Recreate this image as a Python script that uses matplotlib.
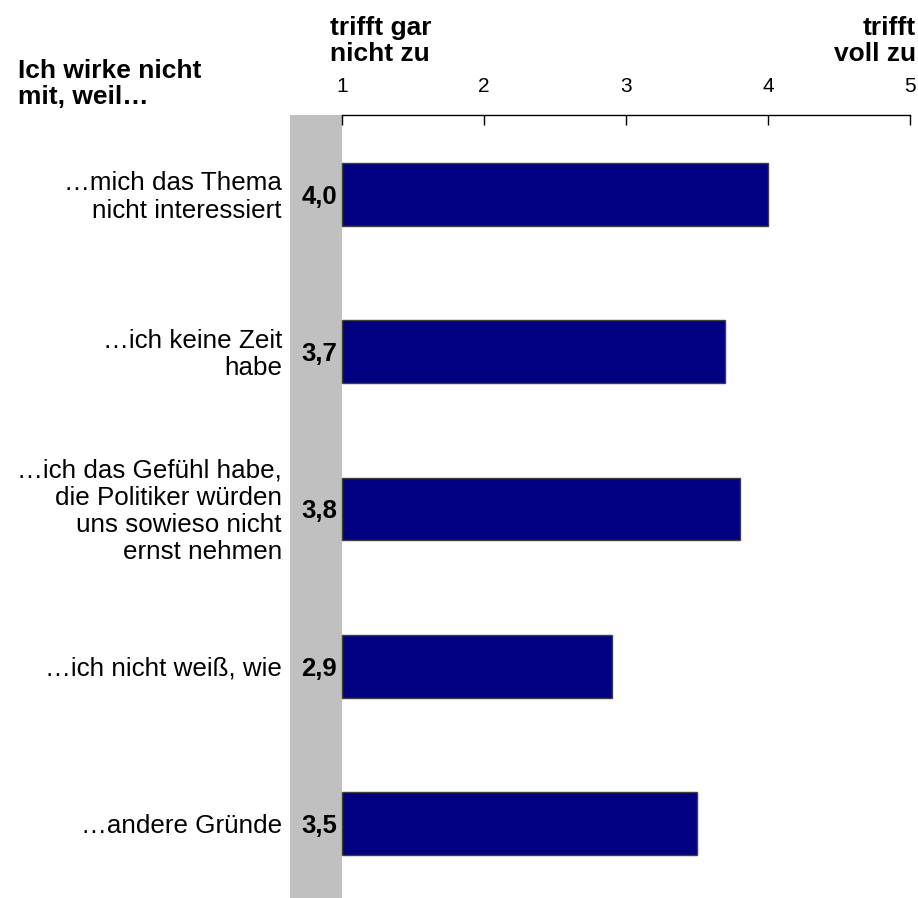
import matplotlib
matplotlib.use("Agg")
import matplotlib.pyplot as plt

plt.rcParams['font.family'] = ['Liberation Sans', 'DejaVu Sans']

categories = [
    "…mich das Thema\nnicht interessiert",
    "…ich keine Zeit\nhabe",
    "…ich das Gefühl habe,\ndie Politiker würden\nuns sowieso nicht\nernst nehmen",
    "…ich nicht weiß, wie",
    "…andere Gründe",
]
values = [4.0, 3.7, 3.8, 2.9, 3.5]
value_labels = ["4,0", "3,7", "3,8", "2,9", "3,5"]
ticks = [1, 2, 3, 4, 5]
tick_labels = ["1", "2", "3", "4", "5"]

W, H = 918, 898
fig = plt.figure(figsize=(W / 100, H / 100), dpi=100)

x0, x1 = 290, 910   # axes left/right in px
y_top, y_bot = 115, 898
ax = fig.add_axes([x0 / W, 1 - y_bot / H, (x1 - x0) / W, (y_bot - y_top) / H])

band_w = (342 - 290) / 142.0
xmin = 1 - band_w
ax.set_xlim(xmin, 5)
n = len(categories)
ax.set_ylim(n - 1 + 0.474, -0.506)

ax.axvspan(xmin, 1, color="#C0C0C0", zorder=0, lw=0)

ypos = list(range(n))
ax.barh(ypos, [v - 1 for v in values], left=1, height=0.4,
        color="#000080", edgecolor="#404040", linewidth=1, zorder=2)

for y, lab, cat in zip(ypos, value_labels, categories):
    ax.text(0.965, y + 0.015, lab, ha="right", va="center", fontsize=18.5,
            fontweight="bold", color="black")
    ax.text(xmin - 0.057, y + 0.015, cat, ha="right", va="center", fontsize=18.7,
            color="black", linespacing=1.17)

ax.xaxis.tick_top()
ax.set_xticks(ticks)
ax.set_xticklabels(tick_labels, fontsize=15)
ax.tick_params(axis="x", direction="in", length=7, width=1, pad=14, top=True, bottom=False)
ax.set_yticks([])
for s in ["left", "right", "bottom"]:
    ax.spines[s].set_visible(False)
ax.spines["top"].set_bounds(1, 5)
ax.spines["top"].set_linewidth(1)

fig.text(18 / W, 1 - 84 / H, "Ich wirke nicht\nmit, weil…", ha="left", va="center",
         fontsize=19, fontweight="bold", linespacing=1.08)
fig.text(330 / W, 1 - 41 / H, "trifft gar\nnicht zu", ha="left", va="center",
         fontsize=19, fontweight="bold", linespacing=1.08)
fig.text(916 / W, 1 - 41 / H, "trifft\nvoll zu", ha="right", va="center",
         fontsize=19, fontweight="bold", linespacing=1.08, multialignment="right")

fig.savefig("out.png", dpi=100, facecolor="white")
